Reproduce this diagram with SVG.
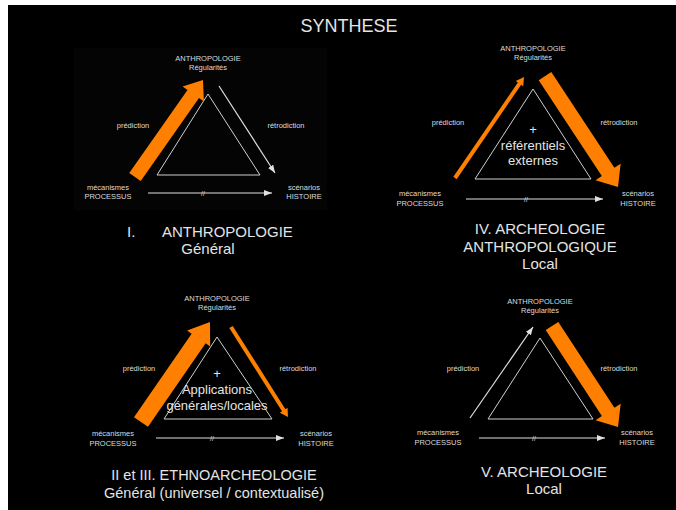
<svg xmlns="http://www.w3.org/2000/svg" width="676" height="510" viewBox="0 0 676 510">
<style>
.lab{font-family:"Liberation Sans",Arial,sans-serif;font-size:7.5px;fill:#dcdcdc;text-anchor:middle}
.ttl{font-family:"Liberation Sans",Arial,sans-serif;fill:#e4e4e4;text-anchor:middle}
.inner{font-family:"Liberation Sans",Arial,sans-serif;font-size:13px;fill:#e4e4e4;text-anchor:middle}
.tri{fill:none;stroke:#d0d0d0;stroke-width:1}
.wl{fill:none;stroke:#e0e0e0;stroke-width:1.2}
.or{fill:#ff8000}
.sl{font-family:"Liberation Sans",Arial,sans-serif;font-size:7px;fill:#dcdcdc;text-anchor:middle}
</style>
<defs>
<marker id="ah" markerUnits="userSpaceOnUse" markerWidth="9" markerHeight="7" refX="8" refY="3" orient="auto">
<path d="M0,0 L8,3 L0,6 z" fill="#e0e0e0"/>
</marker>
</defs>
<rect x="0" y="0" width="676" height="510" fill="#ffffff"/>
<rect x="8" y="5" width="668" height="505" fill="#000000"/>
<rect x="74" y="48" width="253" height="162" fill="#040404"/>
<text class="ttl" x="349" y="32" font-size="18">SYNTHESE</text>

<!-- Panel I -->
<g id="panel1">
<g id="p1-top"><text class="lab" x="208" y="61">ANTHROPOLOGIE</text><text class="lab" x="208" y="70">Régularités</text></g>
<g id="p1-left"><text class="lab" x="108" y="190">mécanismes</text><text class="lab" x="108" y="199">PROCESSUS</text></g>
<g id="p1-right"><text class="lab" x="304" y="190">scénarios</text><text class="lab" x="304" y="199">HISTOIRE</text></g>
<g id="p1-center"><polygon class="tri" points="208,94 157,175 260,175"/></g>
<text class="lab" x="133" y="128">prédiction</text>
<text class="lab" x="286" y="128">rétrodiction</text>
<text class="ttl" x="127" y="237" font-size="15" style="text-anchor:start">I.</text>
<text class="ttl" x="162" y="237" font-size="15" style="text-anchor:start">ANTHROPOLOGIE</text>
<text class="ttl" x="208" y="254" font-size="15">Général</text>
</g>

<!-- Panel IV -->
<g id="panel4">
<g id="p4-top"><text class="lab" x="533" y="51">ANTHROPOLOGIE</text><text class="lab" x="533" y="60">Régularités</text></g>
<g id="p4-left"><text class="lab" x="420" y="196">mécanismes</text><text class="lab" x="420" y="206">PROCESSUS</text></g>
<g id="p4-right"><text class="lab" x="638" y="196">scénarios</text><text class="lab" x="638" y="206">HISTOIRE</text></g>
<g id="p4-center"><polygon class="tri" points="533,89 475,179 591,179"/>
<text class="inner" x="533" y="134">+</text>
<text class="inner" x="533" y="150">référentiels</text>
<text class="inner" x="533" y="165">externes</text></g>
<text class="lab" x="448" y="125">prédiction</text>
<text class="lab" x="619" y="125">rétrodiction</text>
<text class="ttl" x="540" y="234" font-size="15">IV. ARCHEOLOGIE</text>
<text class="ttl" x="540" y="252" font-size="15">ANTHROPOLOGIQUE</text>
<text class="ttl" x="540" y="269" font-size="15">Local</text>
</g>

<!-- Panel II/III -->
<g id="panel2">
<g id="p2-top"><text class="lab" x="217" y="301">ANTHROPOLOGIE</text><text class="lab" x="217" y="310">Régularités</text></g>
<g id="p2-left"><text class="lab" x="113" y="436">mécanismes</text><text class="lab" x="113" y="446">PROCESSUS</text></g>
<g id="p2-right"><text class="lab" x="316" y="436">scénarios</text><text class="lab" x="316" y="446">HISTOIRE</text></g>
<g id="p2-center"><polygon class="tri" points="217,337 164,419 272,419"/>
<text class="inner" x="217" y="378">+</text>
<text class="inner" x="217" y="394">Applications</text>
<text class="inner" x="217" y="410">générales/locales</text></g>
<text class="lab" x="139" y="371">prédiction</text>
<text class="lab" x="298" y="371">rétrodiction</text>
<text class="ttl" x="214" y="480" font-size="14.5">II et III. ETHNOARCHEOLOGIE</text>
<text class="ttl" x="214" y="498" font-size="14.5">Général (universel / contextualisé)</text>
</g>

<!-- Panel V -->
<g id="panel5">
<g id="p5-top"><text class="lab" x="540" y="304">ANTHROPOLOGIE</text><text class="lab" x="540" y="313">Régularités</text></g>
<g id="p5-left"><text class="lab" x="438" y="435">mécanismes</text><text class="lab" x="438" y="445">PROCESSUS</text></g>
<g id="p5-right"><text class="lab" x="637" y="435">scénarios</text><text class="lab" x="637" y="445">HISTOIRE</text></g>
<g id="p5-center"><polygon class="tri" points="540,338 488,419 593,419"/></g>
<text class="lab" x="463" y="371">prédiction</text>
<text class="lab" x="619" y="371">rétrodiction</text>
<text class="ttl" x="544" y="477" font-size="15">V. ARCHEOLOGIE</text>
<text class="ttl" x="544" y="494" font-size="15">Local</text>
</g>

<g id="connectors">
<!-- Panel I -->
<polygon class="or" points="140.73,181.02 198.97,97.94 203.89,101.38 203,80 182.59,86.46 187.51,89.90 129.27,172.98"/>
<line class="wl" x1="219" y1="86" x2="275" y2="173" marker-end="url(#ah)"/>
<line class="wl" x1="148" y1="193" x2="272" y2="193" marker-end="url(#ah)"/>
<text class="sl" x="203" y="195.5">//</text>
<!-- Panel IV -->
<polygon class="or" points="456.65,179.13 521.14,84.74 523.21,86.15 524,77 515.77,81.07 517.84,82.48 453.35,176.87"/>
<polygon class="or" points="538.73,80.13 601.83,176.08 595.56,180.2 618,187 620.64,163.7 614.37,167.83 551.27,71.88"/>
<line class="wl" x1="466" y1="199" x2="603" y2="199" marker-end="url(#ah)"/>
<text class="sl" x="526" y="201.5">//</text>
<!-- Panel II/III -->
<polygon class="or" points="148,426.83 205.64,343.29 210.16,346.41 210,322 187.12,330.51 191.64,333.63 134,417.17"/>
<polygon class="or" points="229.31,328.07 282.03,411.31 279.92,412.65 288,417 287.52,407.83 285.41,409.17 232.69,325.93"/>
<line class="wl" x1="156" y1="438" x2="284" y2="438" marker-end="url(#ah)"/>
<text class="sl" x="212" y="440.5">//</text>
<!-- Panel V -->
<line class="wl" x1="470" y1="418" x2="533" y2="327" marker-end="url(#ah)"/>
<polygon class="or" points="545.72,330.10 601.87,416.03 595.59,420.14 618,427 620.71,403.72 614.43,407.83 558.28,321.90"/>
<line class="wl" x1="479" y1="438" x2="605" y2="438" marker-end="url(#ah)"/>
<text class="sl" x="534" y="440.5">//</text>
</g>
</svg>
